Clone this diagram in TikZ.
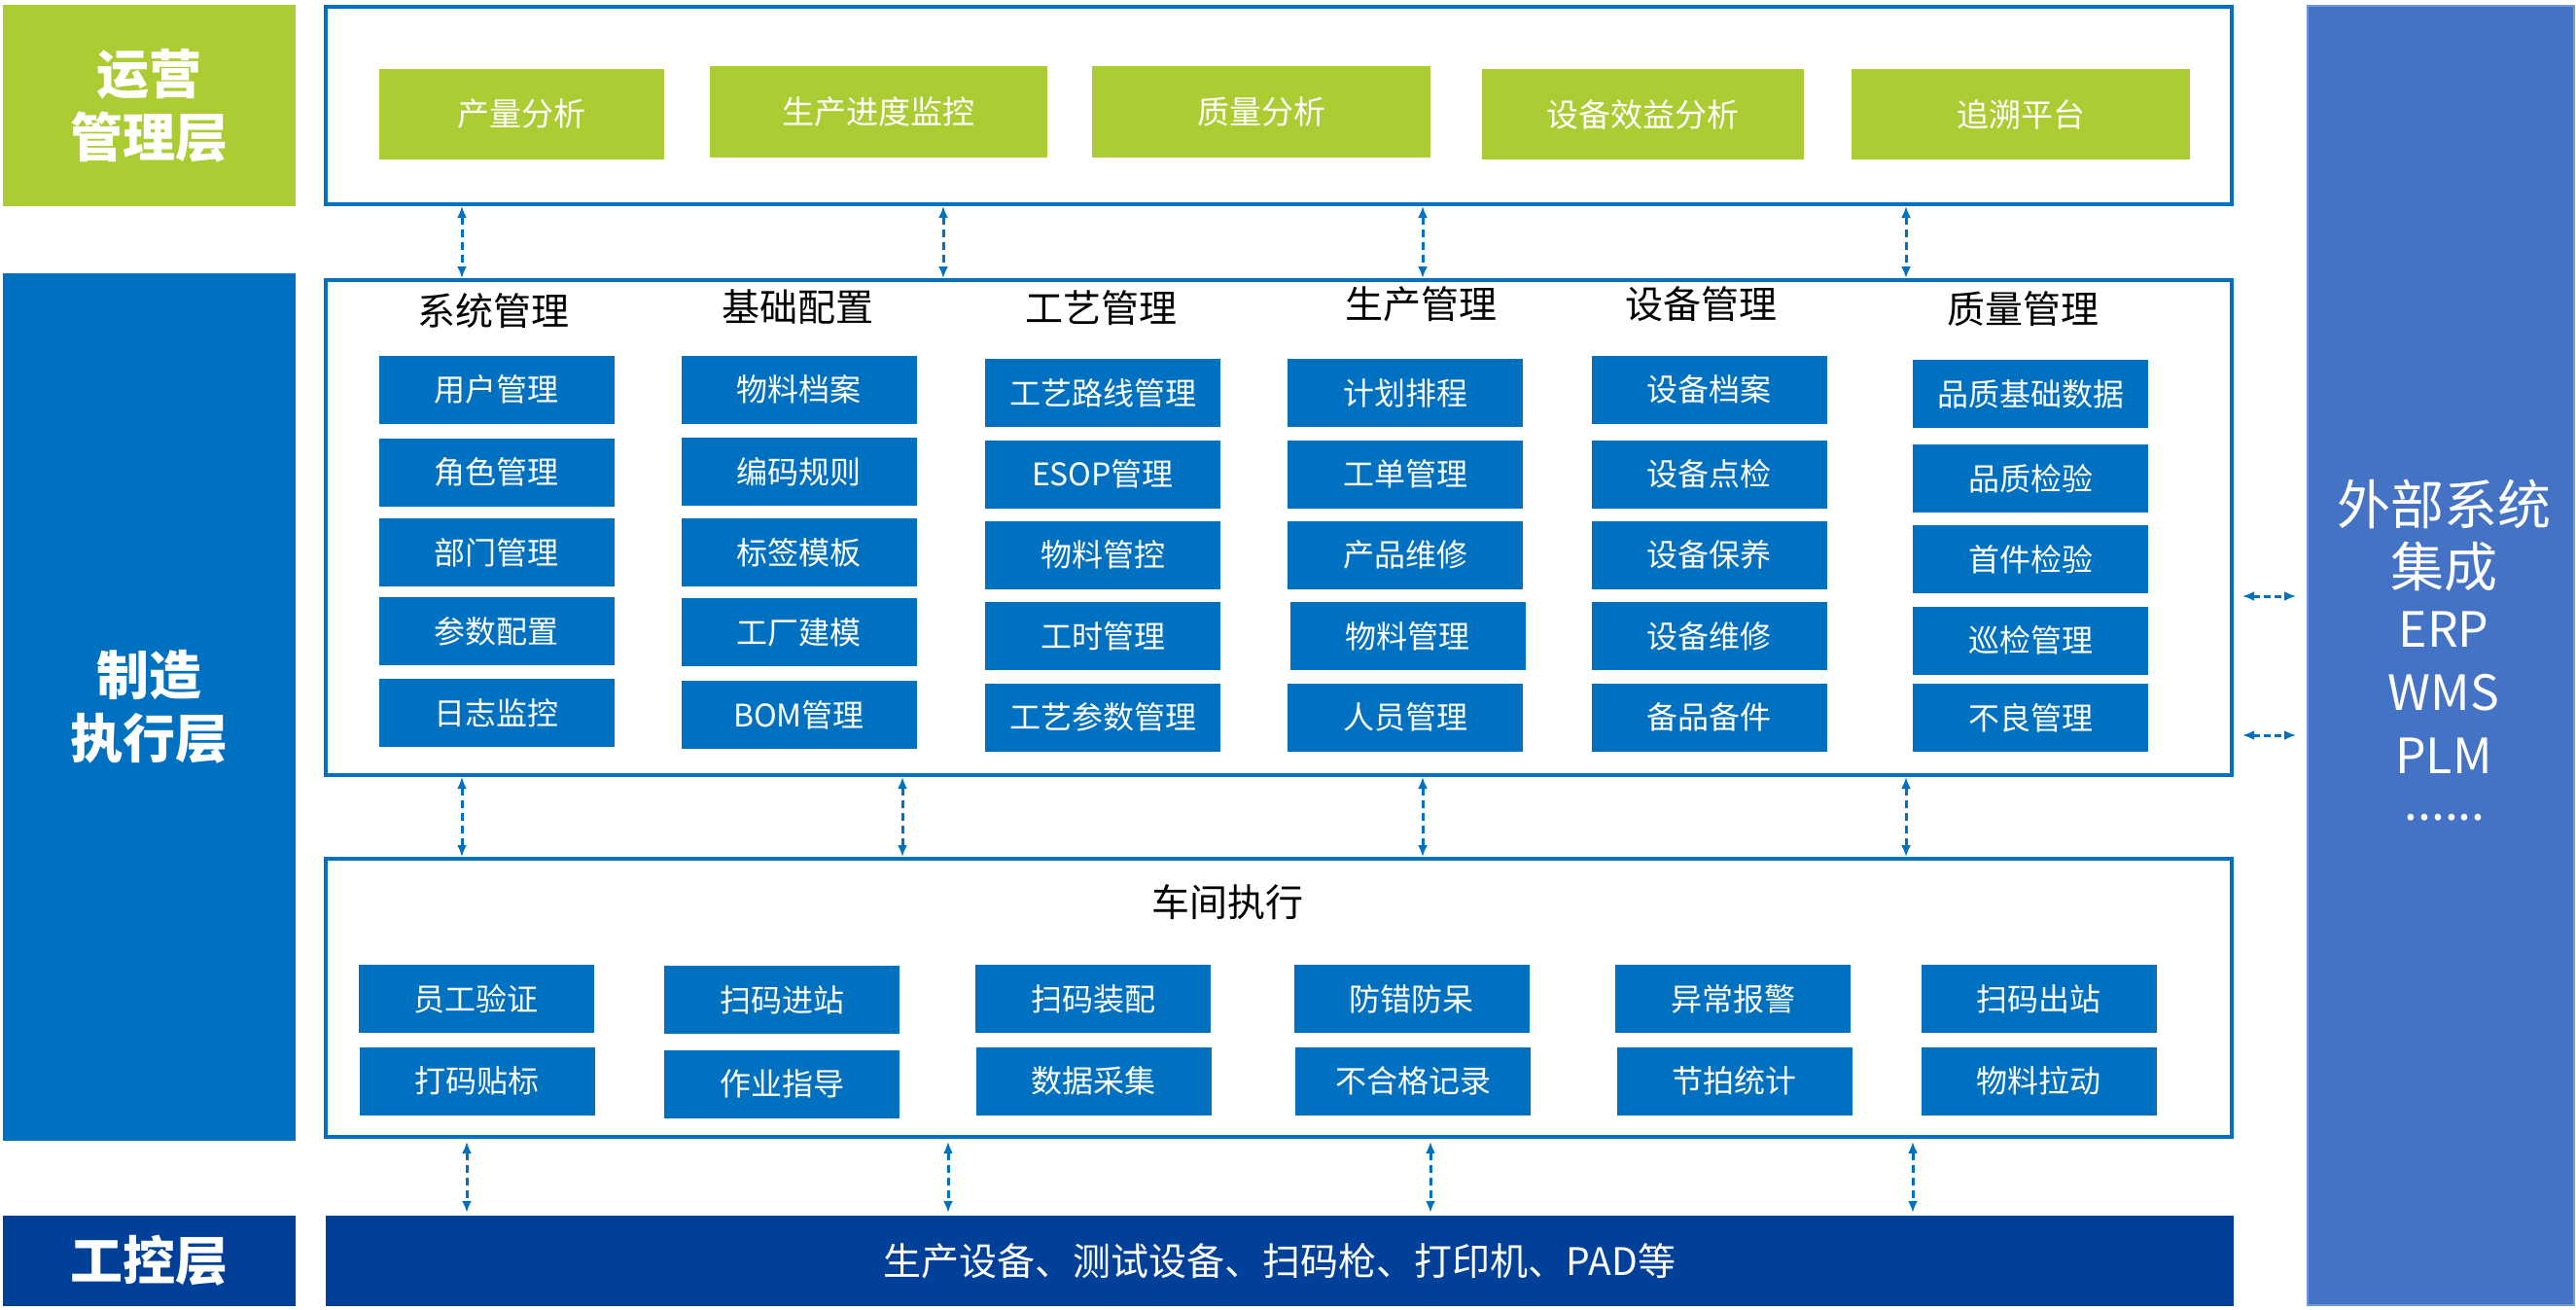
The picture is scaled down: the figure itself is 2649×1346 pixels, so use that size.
\documentclass[tikz,border=0pt]{standalone}
\usepackage{fontspec}
\setmainfont{Noto Sans CJK SC}
\usetikzlibrary{arrows.meta}
\definecolor{mgreen}{RGB}{171,205,51}
\definecolor{mblue}{RGB}{0,112,192}
\definecolor{mdark}{RGB}{0,64,152}
\definecolor{mext}{RGB}{68,114,196}
\definecolor{mextb}{RGB}{110,152,218}
\begin{document}
\begin{tikzpicture}[x=1pt,y=-1pt,
  gbox/.style={fill=mgreen, text=white, inner sep=0pt, minimum height=93pt, font=\fontsize{33}{33}\selectfont},
  bbox/.style={fill=mblue, text=white, inner sep=0pt, minimum width=242pt, minimum height=70pt, font=\fontsize{32}{32}\selectfont},
  head/.style={text=black, inner sep=0pt, font=\fontsize{39}{39}\selectfont},
  frame/.style={draw=mblue, line width=4pt, fill=white, inner sep=0pt},
  layer/.style={inner sep=0pt, text=white, align=center, font=\fontsize{54}{65}\selectfont\bfseries},
  extline/.style={inner sep=0pt, text=white, anchor=base, font=\fontsize{55}{55}\selectfont},
  extlat/.style={extline, font=\fontsize{50}{50}\selectfont},
  tipx/.tip={Latex[length=12pt,width=10pt]},
  link/.style={draw=mblue, line width=3pt, dash pattern=on 8pt off 5pt, tipx-tipx},
  slink/.style={draw=mblue, line width=3pt, dash pattern=on 7pt off 4pt, tipx-tipx},
]
\useasboundingbox (0,0) rectangle (2649,1346);
\fill[white] (0,0) rectangle (2649,1346);

% left layer labels
\node[layer, fill=mgreen, minimum width=301pt, minimum height=207pt] (L1) at (153.5,108.5) {运营\\管理层};
\node[layer, fill=mblue, minimum width=301pt, minimum height=892pt] (L2) at (153.5,727) {制造\\执行层};
\node[layer, fill=mdark, minimum width=301pt, minimum height=93pt] (L3) at (153.5,1296.5) {工控层};

% right panel
\node[fill=mext, draw=mextb, line width=2pt, minimum width=274pt, minimum height=1336pt, inner sep=0pt] (ext) at (2510,674) {};
\node[extline] (ext1) at (2513,539) {外部系统};
\node[extline] (ext2) at (2513,603) {集成};
\node[extlat] (ext3) at (2513,665) {ERP};
\node[extlat] (ext4) at (2513,730) {WMS};
\node[extlat] (ext5) at (2513,795) {PLM};
\node[extlat] (ext6) at (2514,843) {......};

% frames
\node[frame, minimum width=1960pt, minimum height=203pt] (f1) at (1315,108.5) {};
\node[frame, minimum width=1960pt, minimum height=509pt] (f2) at (1315,542.5) {};
\node[frame, minimum width=1960pt, minimum height=286pt] (f3) at (1315,1026) {};
\node[fill=mdark, minimum width=1962pt, minimum height=93pt, inner sep=0pt, text=white, font=\fontsize{39}{39}\selectfont] (bar) at (1316,1296.5) {生产设备、测试设备、扫码枪、打印机、PAD等};

% operation layer boxes
\node[gbox, minimum width=293pt] (g1) at (536.5,117.5) {产量分析};
\node[gbox, minimum width=347pt] (g2) at (903.5,115) {生产进度监控};
\node[gbox, minimum width=348pt] (g3) at (1297,115) {质量分析};
\node[gbox, minimum width=331pt] (g4) at (1689.5,117.5) {设备效益分析};
\node[gbox, minimum width=348pt] (g5) at (2078,117.5) {追溯平台};

% module headings
\node[head] (h1) at (507,320) {系统管理};
\node[head] (h2) at (820,316) {基础配置};
\node[head] (h3) at (1132,317) {工艺管理};
\node[head] (h4) at (1461,313) {生产管理};
\node[head] (h5) at (1749,313) {设备管理};
\node[head] (h6) at (2080,318) {质量管理};

% column 1
\node[bbox] (a1) at (510.5,400.5) {用户管理};
\node[bbox] (a2) at (510.5,485.5) {角色管理};
\node[bbox] (a3) at (510.5,568) {部门管理};
\node[bbox] (a4) at (510.5,649) {参数配置};
\node[bbox] (a5) at (510.5,733) {日志监控};
% column 2
\node[bbox] (b1) at (821.5,400.5) {物料档案};
\node[bbox] (b2) at (821.5,485) {编码规则};
\node[bbox] (b3) at (821.5,568) {标签模板};
\node[bbox] (b4) at (821.5,650) {工厂建模};
\node[bbox] (b5) at (821.5,735) {BOM管理};
% column 3
\node[bbox] (c1) at (1134,404) {工艺路线管理};
\node[bbox] (c2) at (1134,487.5) {ESOP管理};
\node[bbox] (c3) at (1134,570.5) {物料管控};
\node[bbox] (c4) at (1134,654) {工时管理};
\node[bbox] (c5) at (1134,737.5) {工艺参数管理};
% column 4
\node[bbox] (d1) at (1445,404) {计划排程};
\node[bbox] (d2) at (1445,487.5) {工单管理};
\node[bbox] (d3) at (1445,570.5) {产品维修};
\node[bbox] (d4) at (1447.5,654) {物料管理};
\node[bbox] (d5) at (1445,737.5) {人员管理};
% column 5
\node[bbox] (e1) at (1757.5,400.5) {设备档案};
\node[bbox] (e2) at (1757.5,487.5) {设备点检};
\node[bbox] (e3) at (1757.5,570.5) {设备保养};
\node[bbox] (e4) at (1757.5,654) {设备维修};
\node[bbox] (e5) at (1757.5,737.5) {备品备件};
% column 6
\node[bbox] (q1) at (2088,405) {品质基础数据};
\node[bbox] (q2) at (2088,492) {品质检验};
\node[bbox] (q3) at (2088,575) {首件检验};
\node[bbox] (q4) at (2088,658.5) {巡检管理};
\node[bbox] (q5) at (2088,738) {不良管理};

% shop floor
\node[head] (h7) at (1262,928) {车间执行};
\node[bbox] (s1) at (489.5,1027) {员工验证};
\node[bbox] (s2) at (490.5,1111.5) {打码贴标};
\node[bbox] (s3) at (804,1028) {扫码进站};
\node[bbox] (s4) at (804,1114.5) {作业指导};
\node[bbox] (s5) at (1124,1027) {扫码装配};
\node[bbox] (s6) at (1124.5,1111.5) {数据采集};
\node[bbox] (s7) at (1451.5,1027) {防错防呆};
\node[bbox] (s8) at (1453,1111.5) {不合格记录};
\node[bbox] (s9) at (1782,1027) {异常报警};
\node[bbox] (s10) at (1783.5,1111.5) {节拍统计};
\node[bbox] (s11) at (2096.5,1027) {扫码出站};
\node[bbox] (s12) at (2096.5,1111.5) {物料拉动};

% connector positions
\coordinate (xa1) at (475,0);
\coordinate (xa2) at (970,0);
\coordinate (xa3) at (1463,0);
\coordinate (xa4) at (1960,0);
\coordinate (xb2) at (928,0);
\coordinate (xc1) at (480,0);
\coordinate (xc2) at (975,0);
\coordinate (xc3) at (1471,0);
\coordinate (xc4) at (1967,0);
\coordinate (ys1) at (0,613);
\coordinate (ys2) at (0,756);

\draw[link] (f1.south -| xa1) -- (f2.north -| xa1);
\draw[link] (f1.south -| xa2) -- (f2.north -| xa2);
\draw[link] (f1.south -| xa3) -- (f2.north -| xa3);
\draw[link] (f1.south -| xa4) -- (f2.north -| xa4);

\draw[link] (f2.south -| xa1) -- (f3.north -| xa1);
\draw[link] (f2.south -| xb2) -- (f3.north -| xb2);
\draw[link] (f2.south -| xa3) -- (f3.north -| xa3);
\draw[link] (f2.south -| xa4) -- (f3.north -| xa4);

\draw[link, shorten <=3pt, shorten >=3pt] (f3.south -| xc1) -- (bar.north -| xc1);
\draw[link, shorten <=3pt, shorten >=3pt] (f3.south -| xc2) -- (bar.north -| xc2);
\draw[link, shorten <=3pt, shorten >=3pt] (f3.south -| xc3) -- (bar.north -| xc3);
\draw[link, shorten <=3pt, shorten >=3pt] (f3.south -| xc4) -- (bar.north -| xc4);

\draw[slink, shorten <=9pt, shorten >=11pt] (f2.east |- ys1) -- (ext.west |- ys1);
\draw[slink, shorten <=9pt, shorten >=11pt] (f2.east |- ys2) -- (ext.west |- ys2);
\end{tikzpicture}
\end{document}
